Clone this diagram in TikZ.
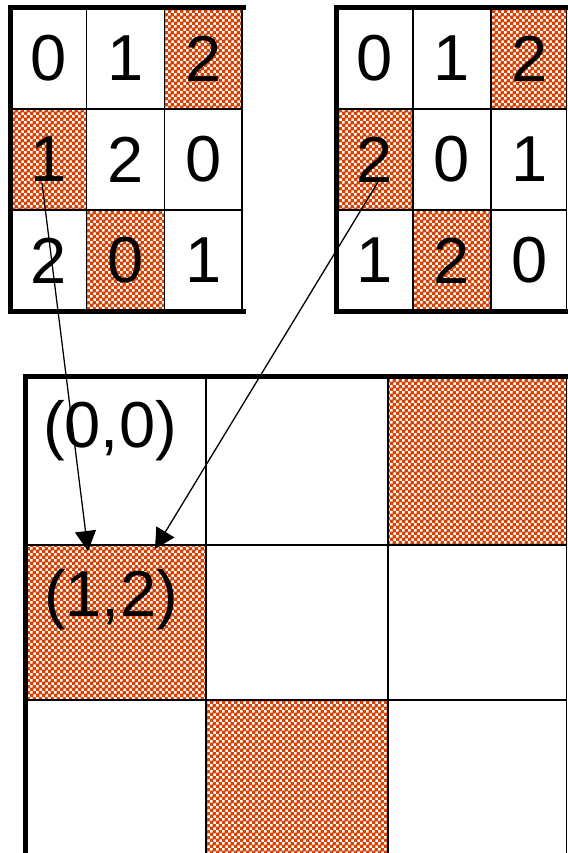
\documentclass[tikz,border=0pt]{standalone}
\usepackage{fontspec}
\setmainfont{Liberation Sans}
\usetikzlibrary{arrows.meta,patterns.meta}
\definecolor{chkorange}{RGB}{212,66,4}
\pgfdeclarepattern{
  name=finechecker,
  type=uncolored,
  bottom left={\pgfpointorigin},
  top right={\pgfqpoint{6pt}{6pt}},
  tile size={\pgfqpoint{6pt}{6pt}},
  code={
    \pgfpathrectangle{\pgfpointorigin}{\pgfqpoint{3.8pt}{3.8pt}}
    \pgfpathrectangle{\pgfqpoint{3pt}{3pt}}{\pgfqpoint{3.8pt}{3.8pt}}
    \pgfusepath{fill}
  }
}
\begin{document}
\begin{tikzpicture}[x=1pt, y=-1pt, >={Triangle[length=20pt,width=21pt]},
      num/.style={font=\fontsize{65}{78}\selectfont, inner sep=0pt},
      gridline/.style={line width=1.8pt},
      border/.style={line width=5pt, line cap=rect},
      marked/.style={pattern=finechecker, pattern color=chkorange},
      link/.style={->, line width=1.3pt}]
    % coordinates in pixels of the 567x853 frame, y grows downwards
    \useasboundingbox (0,0) rectangle (567,853);
    \fill[white] (0,0) rectangle (567,853);
    % shaded cells
    \fill[marked] (164.5,8) rectangle (242,109);
    \fill[marked] (10,109) rectangle (86.5,210);
    \fill[marked] (86.5,210) rectangle (164.5,311);
    \fill[marked] (491,8) rectangle (567,109);
    \fill[marked] (336,109) rectangle (413,210);
    \fill[marked] (413,210) rectangle (491,311);
    \fill[marked] (388,376.5) rectangle (567,545);
    \fill[marked] (25,545) rectangle (206,700);
    \fill[marked] (206,700) rectangle (388,853);
    % left square
    \draw[gridline] (86.5,8) -- (86.5,311);
    \draw[gridline] (164.5,8) -- (164.5,311);
    \draw[gridline] (242,8) -- (242,311);
    \draw[gridline] (10,109) -- (242,109);
    \draw[gridline] (10,210) -- (242,210);
    \draw[border] (243,8) -- (10,8) -- (10,311) -- (243,311);
    % right square
    \draw[gridline] (413,8) -- (413,311);
    \draw[gridline] (491,8) -- (491,311);
    \draw[gridline] (566.5,8) -- (566.5,311);
    \draw[gridline] (336,109) -- (567,109);
    \draw[gridline] (336,210) -- (567,210);
    \draw[border] (567,8) -- (336,8) -- (336,311) -- (567,311);
    % product square
    \draw[gridline] (206,376.5) -- (206,853);
    \draw[gridline] (388,376.5) -- (388,853);
    \draw[gridline] (566.5,376.5) -- (566.5,853);
    \draw[gridline] (25,545) -- (567,545);
    \draw[gridline] (25,700) -- (567,700);
    \draw[border] (567,376.5) -- (25,376.5) -- (25,853);
    % entries of the left square
    \node[num] (la0) at (48.25,58.5) {0};
    \node[num] (la1) at (125.5,58.5) {1};
    \node[num] (la2) at (203.25,58.5) {2};
    \node[num] (lb0) at (48.25,159.5) {1};
    \node[num] (lb1) at (125.5,159.5) {2};
    \node[num] (lb2) at (203.25,159.5) {0};
    \node[num] (lc0) at (48.25,260.5) {2};
    \node[num] (lc1) at (125.5,260.5) {0};
    \node[num] (lc2) at (203.25,260.5) {1};
    % entries of the right square
    \node[num] (ra0) at (374.5,58.5) {0};
    \node[num] (ra1) at (452,58.5) {1};
    \node[num] (ra2) at (529.25,58.5) {2};
    \node[num] (rb0) at (374.5,159.5) {2};
    \node[num] (rb1) at (452,159.5) {0};
    \node[num] (rb2) at (529.25,159.5) {1};
    \node[num] (rc0) at (374.5,260.5) {1};
    \node[num] (rc1) at (452,260.5) {2};
    \node[num] (rc2) at (529.25,260.5) {0};
    % pairs
    \node[num] (pair00) at (110,431) {(0,0)};
    \node[num] (pair12) at (111,600) {(1,2)};
    \coordinate (fromL) at (42,183);
    \coordinate (fromR) at (378,182);
    \coordinate (toL) at (88,551);
    \coordinate (toR) at (155,549);
    \draw[link] (fromL) -- (toL);
    \draw[link] (fromR) -- (toR);
  \end{tikzpicture}
\end{document}
